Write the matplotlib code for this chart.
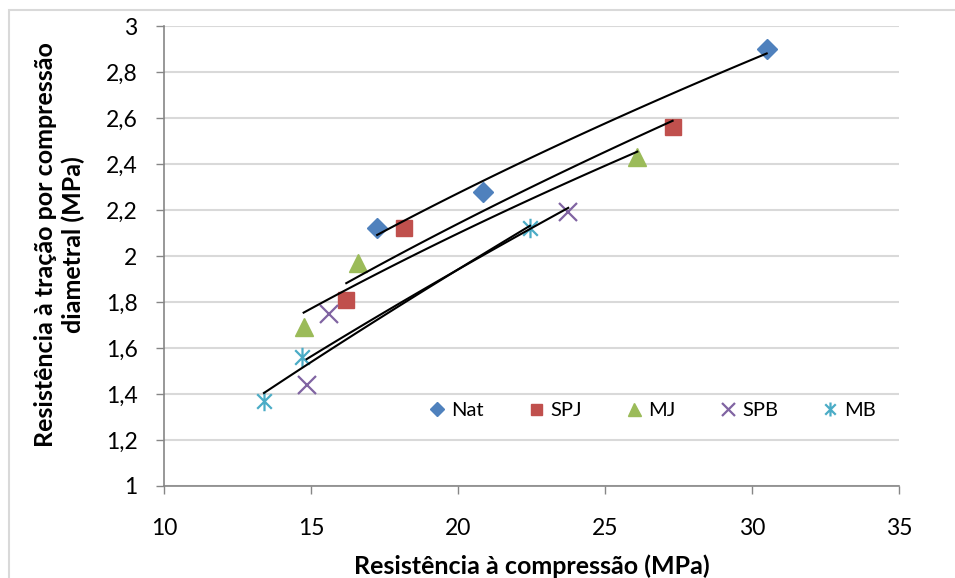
import matplotlib
matplotlib.use('Agg')
import matplotlib.pyplot as plt
import numpy as np
from matplotlib.patches import Rectangle
from matplotlib.path import Path

plt.rcParams['font.family'] = ['Lato', 'DejaVu Sans']

# compressive strength (MPa) vs diametral tensile strength (MPa)
nat_x = [17.25, 20.85, 30.5]
nat_y = [2.12, 2.28, 2.90]
spj_x = [16.2, 18.15, 27.3]
spj_y = [1.81, 2.12, 2.56]
mj_x = [14.75, 16.6, 26.1]
mj_y = [1.69, 1.97, 2.43]
spb_x = [15.6, 14.85, 23.75]
spb_y = [1.75, 1.44, 2.19]
mb_x = [13.4, 14.7, 22.45]
mb_y = [1.37, 1.56, 2.12]

names = ['Nat', 'SPJ', 'MJ', 'SPB', 'MB']
xs = [nat_x, spj_x, mj_x, spb_x, mb_x]
ys = [nat_y, spj_y, mj_y, spb_y, mb_y]
colors = ['#4F81BD', '#C0504D', '#9BBB59', '#8064A2', '#4BACC6']

# Excel-like star: vertical bar plus an X
star = Path([(0, -1), (0, 1), (-0.75, -0.75), (0.75, 0.75), (-0.75, 0.75), (0.75, -0.75)],
            [Path.MOVETO, Path.LINETO, Path.MOVETO, Path.LINETO, Path.MOVETO, Path.LINETO])
markers = ['D', 's', '^', 'x', star]
sizes = [10, 11, 13, 13, 14]

fig = plt.figure(figsize=(9.55, 5.78), dpi=100)
ax = fig.add_axes([164 / 955, 92 / 578, 735 / 955, 460 / 578])

for name, x, y, c, m, s in zip(names, xs, ys, colors, markers, sizes):
    x = np.array(x)
    y = np.array(y)
    # power trendline, as Excel draws it
    b, ln_a = np.polyfit(np.log(x), np.log(y), 1)
    xx = np.linspace(x.min(), x.max(), 50)
    ax.plot(xx, np.exp(ln_a) * xx ** b, color='black', lw=1.5, zorder=3)
    if name in ('SPB', 'MB'):
        ax.plot(x, y, ls='none', marker=m, ms=s, color=c, mew=1.6,
                label=name, zorder=2)
    else:
        ax.plot(x, y, ls='none', marker=m, ms=s, color=c, mec=c,
                label=name, zorder=2)

ax.set_xlim(10, 35)
ax.set_ylim(1, 3)
ax.set_xticks(np.arange(10, 36, 5))
ax.set_yticks(np.arange(1, 3.01, 0.2))
ax.set_yticklabels(['1', '1,2', '1,4', '1,6', '1,8', '2', '2,2', '2,4',
                    '2,6', '2,8', '3'])
ax.yaxis.grid(True, color='#D9D9D9', lw=1.5)
ax.set_axisbelow(True)
for sp in ['top', 'right']:
    ax.spines[sp].set_visible(False)
for sp in ['left', 'bottom']:
    ax.spines[sp].set_color('#868686')
    ax.spines[sp].set_linewidth(1.2)
ax.tick_params(axis='both', colors='#868686', labelcolor='black',
               labelsize=16.5, length=6, width=1)
ax.tick_params(axis='x', pad=17)
ax.tick_params(axis='y', pad=13)

ax.set_xlabel('Resistência à compressão (MPa)', fontsize=18, fontweight='bold',
              labelpad=11)
ax.set_ylabel('Resistência à tração por compressão\ndiametral (MPa)',
              fontsize=18, fontweight='bold', linespacing=1.2)
ax.yaxis.set_label_coords(-0.108, 0.525)

leg = ax.legend(loc='center left', bbox_to_anchor=(427 / 955, (578 - 410) / 578),
                bbox_transform=fig.transFigure, ncol=5, frameon=False,
                fontsize=14.5, handlelength=1.0, handletextpad=0.2,
                columnspacing=2.1, markerscale=0.72, borderpad=0,
                borderaxespad=0)

fig.patches.append(Rectangle((9 / 955, -0.1), 1.2, (578 - 10) / 578 + 0.1,
                             transform=fig.transFigure, fill=False,
                             edgecolor='#D9D9D9', lw=1.5))

fig.savefig('out.png', dpi=100)
